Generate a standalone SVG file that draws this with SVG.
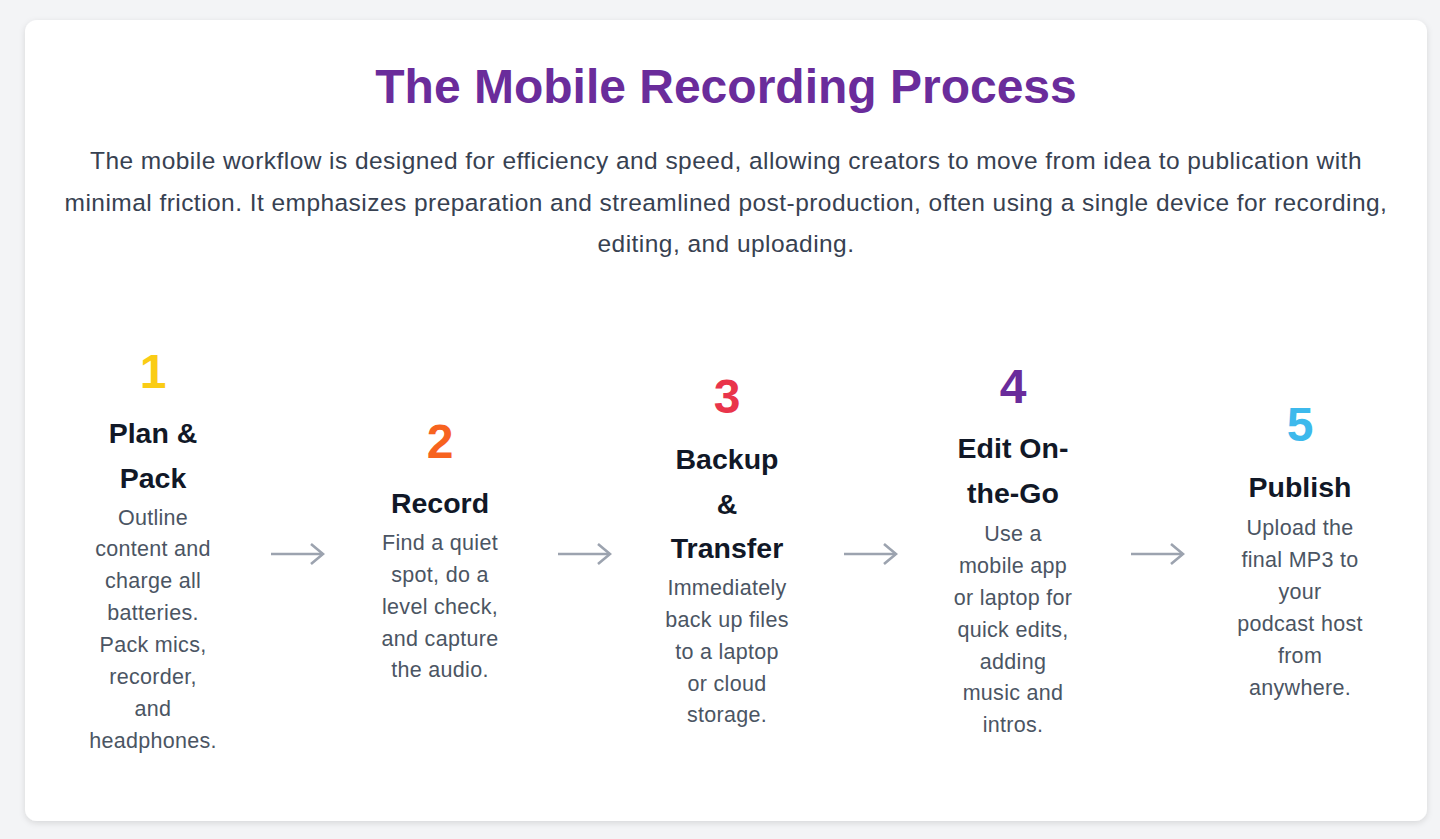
<svg xmlns="http://www.w3.org/2000/svg" width="1440" height="839" viewBox="0 0 1440 839">
<defs>
<filter id="sh" x="-5%" y="-5%" width="110%" height="110%"><feDropShadow dx="0" dy="2" stdDeviation="3" flood-color="#000" flood-opacity="0.12"/></filter>
<marker id="ah" viewBox="0 0 16 24" refX="14" refY="12" markerWidth="16" markerHeight="24" markerUnits="userSpaceOnUse" orient="auto"><path d="M2,2 L14,12 L2,22" fill="none" stroke="#9ca3af" stroke-width="2.6"/></marker>
<style>
text{font-family:"Liberation Sans",Arial,sans-serif;text-anchor:middle}
.title{font-size:48px;font-weight:bold;fill:#6a2c9b}
.intro{font-size:24.5px;letter-spacing:0.45px;fill:#374151}
.num{font-size:48px;font-weight:bold}
.h{font-size:28.5px;font-weight:bold;fill:#111827}
.d{font-size:21.5px;letter-spacing:0.3px;fill:#4b5563}
.conn{stroke:#9ca3af;stroke-width:2.6;fill:none;marker-end:url(#ah)}
</style>
</defs>
<rect width="1440" height="839" fill="#f3f4f6"/>
<rect x="25" y="20" width="1402" height="801" rx="12" fill="#fff" filter="url(#sh)"/>
<text class="title" x="726" y="103">The Mobile Recording Process</text>
<text class="intro" x="726"><tspan x="726" y="169">The mobile workflow is designed for efficiency and speed, allowing creators to move from idea to publication with</tspan><tspan x="726" y="211">minimal friction. It emphasizes preparation and streamlined post-production, often using a single device for recording,</tspan><tspan x="726" y="252">editing, and uploading.</tspan></text>
<g id="step1">
<text class="num" x="153" y="388" fill="#facc15">1</text>
<text class="h"><tspan x="153" y="443">Plan &amp;</tspan><tspan x="153" y="488">Pack</tspan></text>
<text class="d"><tspan x="153" y="525">Outline</tspan><tspan x="153" y="556">content and</tspan><tspan x="153" y="588">charge all</tspan><tspan x="153" y="620">batteries.</tspan><tspan x="153" y="652">Pack mics,</tspan><tspan x="153" y="684">recorder,</tspan><tspan x="153" y="716">and</tspan><tspan x="153" y="748">headphones.</tspan></text>
</g>
<g id="step2">
<text class="num" x="440" y="458" fill="#f7631f">2</text>
<text class="h"><tspan x="440" y="513">Record</tspan></text>
<text class="d"><tspan x="440" y="550">Find a quiet</tspan><tspan x="440" y="582">spot, do a</tspan><tspan x="440" y="614">level check,</tspan><tspan x="440" y="646">and capture</tspan><tspan x="440" y="677">the audio.</tspan></text>
</g>
<g id="step3">
<text class="num" x="727" y="413" fill="#e9344b">3</text>
<text class="h"><tspan x="727" y="469">Backup</tspan><tspan x="727" y="514">&amp;</tspan><tspan x="727" y="558">Transfer</tspan></text>
<text class="d"><tspan x="727" y="595">Immediately</tspan><tspan x="727" y="627">back up files</tspan><tspan x="727" y="659">to a laptop</tspan><tspan x="727" y="691">or cloud</tspan><tspan x="727" y="722">storage.</tspan></text>
</g>
<g id="step4">
<text class="num" x="1013" y="403" fill="#6a2c9b">4</text>
<text class="h"><tspan x="1013" y="458">Edit On-</tspan><tspan x="1013" y="503">the-Go</tspan></text>
<text class="d"><tspan x="1013" y="541">Use a</tspan><tspan x="1013" y="573">mobile app</tspan><tspan x="1013" y="605">or laptop for</tspan><tspan x="1013" y="637">quick edits,</tspan><tspan x="1013" y="669">adding</tspan><tspan x="1013" y="700">music and</tspan><tspan x="1013" y="732">intros.</tspan></text>
</g>
<g id="step5">
<text class="num" x="1300" y="441" fill="#3db9ec">5</text>
<text class="h"><tspan x="1300" y="497">Publish</tspan></text>
<text class="d"><tspan x="1300" y="535">Upload the</tspan><tspan x="1300" y="567">final MP3 to</tspan><tspan x="1300" y="599">your</tspan><tspan x="1300" y="631">podcast host</tspan><tspan x="1300" y="663">from</tspan><tspan x="1300" y="695">anywhere.</tspan></text>
</g>
<g id="connectors">
<line class="conn" x1="271" y1="554" x2="323" y2="554"/>
<line class="conn" x1="558" y1="554" x2="610" y2="554"/>
<line class="conn" x1="844" y1="554" x2="896" y2="554"/>
<line class="conn" x1="1131" y1="554" x2="1183" y2="554"/>
</g>
</svg>
